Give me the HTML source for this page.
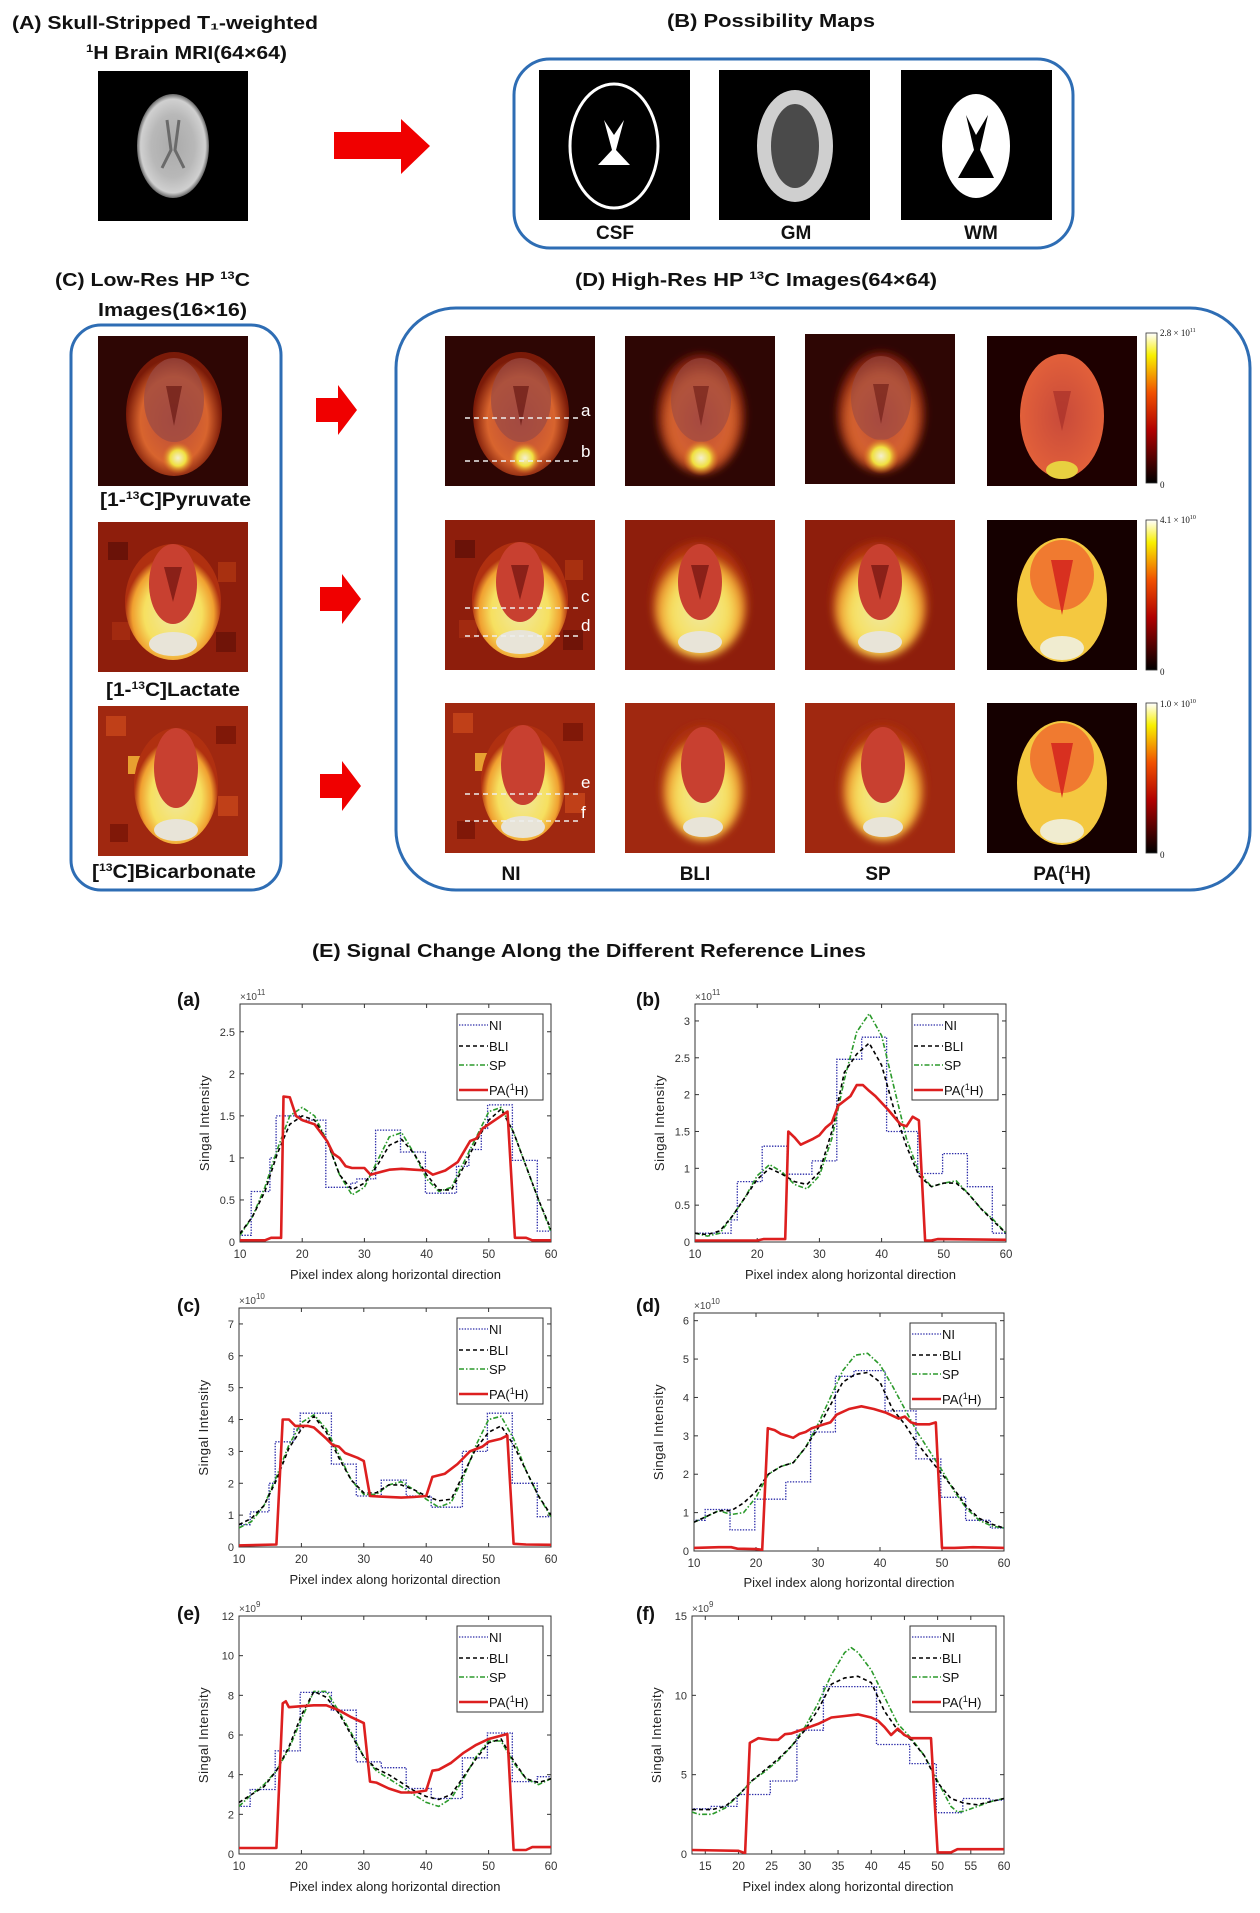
<!DOCTYPE html>
<html><head><meta charset="utf-8">
<style>
html,body{margin:0;padding:0;background:#fff;}
svg{display:block;}
.t{font-family:"Liberation Sans",sans-serif;font-weight:bold;fill:#111;}
</style></head>
<body>
<svg id="fig" width="1260" height="1913" viewBox="0 0 1260 1913" xmlns="http://www.w3.org/2000/svg">
<defs>
  <radialGradient id="gMri" cx="50%" cy="50%" r="50%"><stop offset="0" stop-color="#aaa"/><stop offset="0.6" stop-color="#b8b8b8"/><stop offset="0.9" stop-color="#d0d0d0"/><stop offset="1" stop-color="#666"/></radialGradient>
  <radialGradient id="gPyr" cx="50%" cy="55%" r="50%"><stop offset="0" stop-color="#b84a3a"/><stop offset="0.7" stop-color="#d8642e"/><stop offset="1" stop-color="#7a1a08"/></radialGradient>
  <radialGradient id="gSpot" cx="50%" cy="50%" r="50%"><stop offset="0" stop-color="#f4f0d0"/><stop offset="0.5" stop-color="#f0e040"/><stop offset="1" stop-color="#e07020" stop-opacity="0"/></radialGradient>
  <radialGradient id="gLac" cx="50%" cy="60%" r="50%"><stop offset="0" stop-color="#f0e8a0"/><stop offset="0.6" stop-color="#f6e060"/><stop offset="0.85" stop-color="#f0a030"/><stop offset="1" stop-color="#b03010"/></radialGradient>
  <radialGradient id="gPaP" cx="50%" cy="50%" r="50%"><stop offset="0" stop-color="#c84a3a"/><stop offset="1" stop-color="#e2603a"/></radialGradient>
  <linearGradient id="gCb" x1="0" y1="1" x2="0" y2="0"><stop offset="0" stop-color="#000"/><stop offset="0.35" stop-color="#b00000"/><stop offset="0.6" stop-color="#f05000"/><stop offset="0.85" stop-color="#f8f000"/><stop offset="1" stop-color="#fff"/></linearGradient>
  <filter id="blur4"><feGaussianBlur stdDeviation="4"/></filter>
  <symbol id="symPyr" viewBox="0 0 150 150">
    <rect width="150" height="150" fill="#2e0604"/>
    <ellipse cx="76" cy="78" rx="48" ry="62" fill="url(#gPyr)"/>
    <ellipse cx="76" cy="64" rx="30" ry="42" fill="#9a4a44" opacity="0.7"/>
    <path d="M68 50 L76 90 L84 50 Z" fill="#6a1a14" opacity="0.7"/>
    <circle cx="80" cy="122" r="16" fill="url(#gSpot)"/>
  </symbol>
  <symbol id="symPyrS" viewBox="0 0 150 150">
    <rect width="150" height="150" fill="#2e0604"/>
    <g filter="url(#blur4)"><ellipse cx="76" cy="78" rx="44" ry="60" fill="url(#gPyr)"/></g>
    <ellipse cx="76" cy="64" rx="30" ry="42" fill="#9a4a44" opacity="0.6"/>
    <path d="M68 50 L76 90 L84 50 Z" fill="#6a1a14" opacity="0.6"/>
    <circle cx="76" cy="122" r="18" fill="url(#gSpot)"/>
  </symbol>
  <symbol id="symPyrP" viewBox="0 0 150 150">
    <rect width="150" height="150" fill="#1e0000"/>
    <ellipse cx="75" cy="80" rx="42" ry="62" fill="url(#gPaP)"/>
    <path d="M66 55 L75 95 L84 55 Z" fill="#a8302a" opacity="0.7"/>
    <ellipse cx="75" cy="134" rx="16" ry="9" fill="#e8d040"/>
  </symbol>
  <symbol id="symLac" viewBox="0 0 150 150">
    <rect width="150" height="150" fill="#8e1e0c"/>
    <rect x="10" y="20" width="20" height="18" fill="#6a1208"/><rect x="120" y="40" width="18" height="20" fill="#a83010"/><rect x="14" y="100" width="18" height="18" fill="#a22a10"/><rect x="118" y="110" width="20" height="20" fill="#701408"/>
    <ellipse cx="75" cy="80" rx="48" ry="58" fill="url(#gLac)"/>
    <ellipse cx="75" cy="62" rx="24" ry="40" fill="#c84030"/>
    <path d="M66 45 L75 80 L84 45 Z" fill="#8a2018"/>
    <ellipse cx="75" cy="122" rx="24" ry="12" fill="#e8e4d8"/>
  </symbol>
  <symbol id="symLacS" viewBox="0 0 150 150">
    <rect width="150" height="150" fill="#8e1e0c"/>
    <g filter="url(#blur4)"><ellipse cx="75" cy="80" rx="48" ry="58" fill="url(#gLac)"/></g>
    <ellipse cx="75" cy="62" rx="22" ry="38" fill="#c84030"/>
    <path d="M66 45 L75 80 L84 45 Z" fill="#8a2018"/>
    <ellipse cx="75" cy="122" rx="22" ry="11" fill="#e8e4d8"/>
  </symbol>
  <symbol id="symLacP" viewBox="0 0 150 150">
    <rect width="150" height="150" fill="#150000"/>
    <ellipse cx="75" cy="80" rx="45" ry="62" fill="#f4c840"/>
    <ellipse cx="75" cy="55" rx="32" ry="35" fill="#f07a30"/>
    <path d="M64 40 L75 95 L86 40 Z" fill="#d83020"/>
    <ellipse cx="75" cy="128" rx="22" ry="12" fill="#f0ecd0"/>
  </symbol>
  <symbol id="symBic" viewBox="0 0 150 150">
    <rect width="150" height="150" fill="#a02810"/>
    <rect x="8" y="10" width="20" height="20" fill="#c04018"/><rect x="30" y="50" width="18" height="18" fill="#e8a030"/><rect x="118" y="20" width="20" height="18" fill="#801808"/><rect x="120" y="90" width="20" height="20" fill="#c04018"/><rect x="12" y="118" width="18" height="18" fill="#801808"/>
    <ellipse cx="78" cy="80" rx="42" ry="58" fill="url(#gLac)"/>
    <ellipse cx="78" cy="62" rx="22" ry="40" fill="#c84030"/>
    <ellipse cx="78" cy="124" rx="22" ry="11" fill="#e8e4d8"/>
  </symbol>
  <symbol id="symBicS" viewBox="0 0 150 150">
    <rect width="150" height="150" fill="#a02810"/>
    <g filter="url(#blur4)"><ellipse cx="78" cy="80" rx="42" ry="58" fill="url(#gLac)"/></g>
    <ellipse cx="78" cy="62" rx="22" ry="38" fill="#c84030"/>
    <ellipse cx="78" cy="124" rx="20" ry="10" fill="#e8e4d8"/>
  </symbol>
</defs>

<!-- (A) -->
<text class="t" x="12" y="29" font-size="18" textLength="306" lengthAdjust="spacingAndGlyphs">(A)  Skull-Stripped T₁-weighted</text>
<text class="t" x="86" y="59" font-size="18" textLength="201" lengthAdjust="spacingAndGlyphs"><tspan font-size="11" dy="-7">1</tspan><tspan dy="7">H Brain MRI(64×64)</tspan></text>
<g>
  <rect x="98" y="71" width="150" height="150" fill="#000"/>
  <ellipse cx="173" cy="146" rx="36" ry="52" fill="url(#gMri)"/>
  <path d="M167 120 L171 150 L162 168 M179 120 L175 150 L184 168" stroke="#6a6a6a" stroke-width="3" fill="none"/>
</g>
<polygon points="334,132 401,132 401,119 430,146 401,174 401,159 334,159" fill="#f00000"/>

<!-- (B) -->
<text class="t" x="667" y="27" font-size="18" textLength="208" lengthAdjust="spacingAndGlyphs">(B)   Possibility Maps</text>
<rect x="514" y="59" width="559" height="189" rx="36" fill="none" stroke="#2e6db4" stroke-width="3"/>
<g>
  <rect x="539" y="70" width="151" height="150" fill="#000"/>
  <ellipse cx="614" cy="146" rx="44" ry="62" fill="none" stroke="#fff" stroke-width="3"/>
  <path d="M604 120 L612 150 L598 165 L630 165 L616 150 L624 120 L614 135 Z" fill="#fff"/>
</g>
<g>
  <rect x="719" y="70" width="151" height="150" fill="#000"/>
  <ellipse cx="795" cy="146" rx="38" ry="56" fill="#cfcfcf"/>
  <ellipse cx="795" cy="146" rx="24" ry="42" fill="#4a4a4a"/>
</g>
<g>
  <rect x="901" y="70" width="151" height="150" fill="#000"/>
  <ellipse cx="976" cy="146" rx="34" ry="52" fill="#fff"/>
  <path d="M966 115 L974 150 L958 178 L994 178 L980 150 L988 115 L976 135 Z" fill="#000"/>
</g>
<text class="t" x="615" y="239" font-size="19" text-anchor="middle">CSF</text>
<text class="t" x="796" y="239" font-size="19" text-anchor="middle">GM</text>
<text class="t" x="981" y="239" font-size="19" text-anchor="middle">WM</text>

<!-- (C) -->
<text class="t" x="55" y="286" font-size="18" textLength="195" lengthAdjust="spacingAndGlyphs">(C)  Low-Res HP <tspan font-size="11" dy="-7">13</tspan><tspan dy="7">C</tspan></text>
<text class="t" x="98" y="316" font-size="18" textLength="149" lengthAdjust="spacingAndGlyphs">Images(16×16)</text>
<rect x="71" y="325" width="210" height="565" rx="30" fill="none" stroke="#2e6db4" stroke-width="3"/>
<use href="#symPyr" x="98" y="336" width="150" height="150"/>
<use href="#symLac" x="98" y="522" width="150" height="150"/>
<use href="#symBic" x="98" y="706" width="150" height="150"/>
<text class="t" x="100" y="506" font-size="19" textLength="151" lengthAdjust="spacingAndGlyphs">[1-<tspan font-size="11" dy="-7">13</tspan><tspan dy="7">C]Pyruvate</tspan></text>
<text class="t" x="106" y="696" font-size="19" textLength="134" lengthAdjust="spacingAndGlyphs">[1-<tspan font-size="11" dy="-7">13</tspan><tspan dy="7">C]Lactate</tspan></text>
<text class="t" x="92" y="878" font-size="19" textLength="164" lengthAdjust="spacingAndGlyphs">[<tspan font-size="11" dy="-7">13</tspan><tspan dy="7">C]Bicarbonate</tspan></text>
<polygon points="316,398 338,398 338,385 357,410 338,435 338,422 316,422" fill="#f00000"/>
<polygon points="320,587 342,587 342,574 361,599 342,624 342,611 320,611" fill="#f00000"/>
<polygon points="320,774 342,774 342,761 361,786 342,811 342,798 320,798" fill="#f00000"/>

<!-- (D) -->
<text class="t" x="575" y="286" font-size="18" textLength="362" lengthAdjust="spacingAndGlyphs">(D)    High-Res HP <tspan font-size="11" dy="-7">13</tspan><tspan dy="7">C Images(64×64)</tspan></text>
<rect x="396" y="308" width="854" height="582" rx="60" fill="none" stroke="#2e6db4" stroke-width="3"/>
<use href="#symPyr" x="444" y="336" width="152" height="150"/>
<use href="#symPyrS" x="625" y="336" width="150" height="150"/>
<use href="#symPyrS" x="805" y="334" width="150" height="150"/>
<use href="#symPyrP" x="987" y="336" width="150" height="150"/>
<use href="#symLac" x="444" y="520" width="152" height="150"/>
<use href="#symLacS" x="625" y="520" width="150" height="150"/>
<use href="#symLacS" x="805" y="520" width="150" height="150"/>
<use href="#symLacP" x="987" y="520" width="150" height="150"/>
<use href="#symBic" x="444" y="703" width="152" height="150"/>
<use href="#symBicS" x="625" y="703" width="150" height="150"/>
<use href="#symBicS" x="805" y="703" width="150" height="150"/>
<use href="#symLacP" x="987" y="703" width="150" height="150"/>
<g stroke="#eee" stroke-width="1.5" stroke-dasharray="5,4">
  <line x1="465" y1="418" x2="578" y2="418"/><line x1="465" y1="461" x2="578" y2="461"/>
  <line x1="465" y1="608" x2="578" y2="608"/><line x1="465" y1="636" x2="578" y2="636"/>
  <line x1="465" y1="794" x2="578" y2="794"/><line x1="465" y1="821" x2="578" y2="821"/>
</g>
<g font-family="Liberation Sans,sans-serif" font-size="17" fill="#fff">
  <text x="581" y="416">a</text><text x="581" y="457">b</text>
  <text x="581" y="602">c</text><text x="581" y="631">d</text>
  <text x="581" y="788">e</text><text x="581" y="818">f</text>
</g>
<g font-family="Liberation Serif,serif" font-size="9" fill="#111">
  <rect x="1146" y="333" width="11" height="150" fill="url(#gCb)" stroke="#333" stroke-width="0.8"/>
  <rect x="1146" y="520" width="11" height="150" fill="url(#gCb)" stroke="#333" stroke-width="0.8"/>
  <rect x="1146" y="703" width="11" height="150" fill="url(#gCb)" stroke="#333" stroke-width="0.8"/>
  <text x="1160" y="336">2.8 × 10<tspan font-size="6" dy="-4">11</tspan></text><text x="1160" y="488">0</text>
  <text x="1160" y="523">4.1 × 10<tspan font-size="6" dy="-4">10</tspan></text><text x="1160" y="675">0</text>
  <text x="1160" y="707">1.0 × 10<tspan font-size="6" dy="-4">10</tspan></text><text x="1160" y="858">0</text>
</g>
<text class="t" x="511" y="880" font-size="19" text-anchor="middle">NI</text>
<text class="t" x="695" y="880" font-size="19" text-anchor="middle">BLI</text>
<text class="t" x="878" y="880" font-size="19" text-anchor="middle">SP</text>
<text class="t" x="1062" y="880" font-size="19" text-anchor="middle">PA(<tspan font-size="11" dy="-7">1</tspan><tspan dy="7">H)</tspan></text>

<!-- (E) -->
<text class="t" x="312" y="957" font-size="18" textLength="554" lengthAdjust="spacingAndGlyphs">(E)      Signal Change Along the Different Reference Lines</text>
<g id="charts"></g>
</svg>
<script>
// ---- data (values ×10^exp) ----
const xTicksMain=[10,20,30,40,50,60];
const xTicksF=[15,20,25,30,35,40,45,50,55,60];
const yTicksA=[0,0.5,1,1.5,2,2.5];
const yTicksB=[0,0.5,1,1.5,2,2.5,3];
const yTicksC=[0,1,2,3,4,5,6,7];
const yTicksD=[0,1,2,3,4,5,6];
const yTicksE=[0,2,4,6,8,10,12];
const yTicksF=[0,5,10,15];
const xEven=[10,12,14,16,18,20,22,24,26,28,30,32,34,36,38,40,42,44,46,48,50,52,54,56,58,60];

const aNI=[0.08,0.08,0.6,0.6,0.6,1.0,1.5,1.5,1.5,1.5,1.45,1.45,1.45,1.45,0.65,0.65,0.65,0.65,0.7,0.75,0.75,0.75,1.33,1.33,1.33,1.33,1.07,1.07,1.07,1.07,0.58,0.58,0.58,0.58,0.58,0.9,0.9,1.1,1.1,1.35,1.63,1.63,1.63,1.63,0.97,0.97,0.97,0.97,0.13,0.13,0.13];
const aBLI=[0.1,0.3,0.6,1.05,1.4,1.5,1.45,1.2,0.8,0.62,0.7,0.9,1.15,1.22,1.05,0.8,0.62,0.62,0.9,1.2,1.45,1.58,1.3,0.9,0.5,0.15];
const aSP=[0.08,0.3,0.65,1.1,1.5,1.6,1.5,1.2,0.8,0.56,0.65,0.95,1.25,1.3,1.05,0.75,0.6,0.65,0.95,1.25,1.55,1.6,1.3,0.9,0.5,0.12];
const aPAx=[10,14,15,16.6,17,18,19,20,22,24,25,26,27,28,30,31,32,34,36,38,40,41,43,45,47,48,49,51,53,54.2,56,57,60];
const aPA=[0.02,0.02,0.05,0.05,1.73,1.72,1.5,1.45,1.4,1.2,1.05,1.0,0.9,0.88,0.88,0.8,0.82,0.86,0.87,0.86,0.85,0.8,0.85,0.95,1.2,1.23,1.35,1.45,1.55,0.05,0.05,0.02,0.02];

const bNI=[0.12,0.12,0.12,0.12,0.12,0.12,0.3,0.82,0.82,0.82,0.82,1.3,1.3,1.3,1.3,0.92,0.92,0.92,0.92,1.1,1.1,1.1,1.1,2.48,2.48,2.48,2.48,2.78,2.78,2.78,2.78,1.5,1.5,1.5,1.5,1.5,0.93,0.93,0.93,0.93,1.2,1.2,1.2,1.2,0.75,0.75,0.75,0.75,0.12,0.12,0.12];
const bBLI=[0.12,0.1,0.15,0.35,0.6,0.85,1.0,0.92,0.82,0.78,0.95,1.5,2.3,2.55,2.7,2.4,1.8,1.3,0.9,0.75,0.8,0.8,0.65,0.45,0.28,0.12];
const bSP=[0.12,0.08,0.12,0.35,0.6,0.9,1.05,0.95,0.78,0.72,0.9,1.4,2.2,2.85,3.1,2.8,2.1,1.4,0.95,0.75,0.8,0.83,0.65,0.45,0.3,0.12];
const bPAx=[10,20,21,24.5,25,26,27,29,30,31,32,33,35,36,37,38,39,41,43,44,45,46,47,48,49,60];
const bPA=[0.02,0.02,0.04,0.04,1.5,1.42,1.32,1.4,1.45,1.55,1.62,1.85,1.98,2.13,2.13,2.05,1.98,1.8,1.6,1.57,1.7,1.65,0.02,0.02,0.04,0.03];

const cNI=[0.7,0.7,1.1,1.1,1.1,2.0,3.3,3.3,3.3,3.7,4.2,4.2,4.2,4.2,4.2,2.6,2.6,2.6,2.6,1.6,1.6,1.6,1.6,2.1,2.1,2.1,2.1,1.6,1.6,1.6,1.6,1.25,1.25,1.25,1.25,1.25,3.0,3.0,3.0,3.0,4.2,4.2,4.2,4.2,2.0,2.0,2.0,2.0,0.95,0.95,0.95];
const cBLI=[0.7,0.9,1.3,2.1,3.1,3.7,4.1,3.6,2.8,2.1,1.7,1.7,1.95,1.95,1.8,1.6,1.45,1.5,2.3,3.1,3.6,3.8,3.2,2.4,1.6,1.0];
const cSP=[0.6,0.8,1.3,2.2,3.2,3.9,4.15,3.7,2.9,2.1,1.65,1.65,1.95,2.05,1.8,1.5,1.25,1.4,2.2,3.2,4.0,4.1,3.4,2.4,1.6,0.95];
const cPAx=[10,16,17,18,19,21,22,24,25,26,27,29,30,31,33,36,38,40,41,43,45,47,49,50,52,53,54,56,60];
const cPA=[0.05,0.08,4.0,4.0,3.8,3.8,3.75,3.4,3.2,3.15,2.95,2.8,2.7,1.6,1.58,1.55,1.57,1.6,2.2,2.3,2.6,3.0,3.15,3.3,3.4,3.5,0.1,0.08,0.07];

const dNI=[0.8,0.8,1.08,1.08,1.08,1.08,0.55,0.55,0.55,0.55,1.35,1.35,1.35,1.35,1.35,1.8,1.8,1.8,1.8,3.1,3.1,3.1,3.1,4.55,4.55,4.55,4.7,4.7,4.7,4.7,4.7,3.65,3.65,3.65,3.65,3.65,2.4,2.4,2.4,2.4,1.4,1.4,1.4,1.4,0.8,0.8,0.8,0.8,0.6,0.6,0.6];
const dBLI=[0.75,0.9,1.05,1.05,1.25,1.55,2.0,2.2,2.3,2.7,3.2,3.8,4.4,4.6,4.65,4.4,3.7,3.3,2.8,2.4,2.0,1.6,1.15,0.85,0.7,0.6];
const dSP=[0.75,0.9,1.05,0.95,1.0,1.4,2.0,2.2,2.3,2.7,3.3,4.0,4.7,5.1,5.15,4.85,4.3,3.7,3.1,2.6,2.1,1.55,1.1,0.8,0.65,0.6];
const dPAx=[10,14,16,17,20,21,21.9,23,24,25,26,27,28,29,31,32,33,35,37,39,41,43,44,45,46,48,49,50,52,55,60];
const dPA=[0.08,0.1,0.1,0.06,0.05,0.03,3.2,3.15,3.05,3.0,2.95,3.05,3.1,3.2,3.3,3.35,3.55,3.7,3.77,3.7,3.6,3.45,3.5,3.35,3.3,3.3,3.35,0.08,0.08,0.1,0.08];

const eNI=[2.4,2.4,3.25,3.25,3.25,3.25,5.2,5.2,5.2,5.2,8.15,8.15,8.15,8.15,8.15,7.25,7.25,7.25,7.25,4.65,4.65,4.65,4.65,4.35,4.35,4.35,4.35,3.3,3.3,3.3,3.3,2.8,2.8,2.8,2.8,2.8,4.85,4.85,4.85,4.85,6.1,6.1,6.1,6.1,3.65,3.65,3.65,3.65,3.9,3.9,3.9];
const eBLI=[2.6,3.0,3.4,4.2,5.4,7.0,8.2,7.9,7.1,6.0,4.9,4.3,4.0,3.6,3.2,2.9,2.75,3.0,3.9,4.8,5.6,5.8,4.7,3.8,3.6,3.8];
const eSP=[2.4,3.0,3.5,4.2,5.3,6.8,8.2,8.2,7.2,6.1,4.9,4.2,3.8,3.4,3.0,2.6,2.4,2.8,3.8,4.9,5.7,5.7,4.6,3.8,3.5,3.8];
const ePAx=[10,16,17,17.5,18,20,22,24,26,28,30,31,32,34,36,38,40,41,42,44,46,48,50,53,54,56,57,60];
const ePA=[0.3,0.3,7.6,7.7,7.4,7.45,7.5,7.5,7.25,6.9,6.6,3.65,3.6,3.3,3.1,3.1,3.2,4.2,4.25,4.6,5.1,5.5,5.8,6.05,0.2,0.2,0.35,0.35];

const fNI=[2.85,2.85,2.85,3.0,3.0,3.0,3.0,3.75,3.75,3.75,3.75,3.75,4.6,4.6,4.6,4.6,7.8,7.8,7.8,7.8,10.55,10.55,10.55,10.55,10.55,10.55,10.55,10.55,6.9,6.9,6.9,6.9,6.9,5.7,5.7,5.7,5.7,2.6,2.6,2.6,2.6,3.5,3.5,3.5,3.5,3.4,3.4,3.4];
const fSPx=[13,14,16,18,20,22,24,26,28,30,32,34,36,37,38,40,42,44,46,48,50,52,53,54,56,58,60];
const fSP=[2.65,2.5,2.5,2.9,3.7,4.6,5.2,5.9,6.8,8.0,9.5,11.3,12.7,13.0,12.7,11.6,9.9,8.2,7.3,6.2,4.6,3.0,2.65,2.7,3.0,3.3,3.5];
const fBLIx=[13,16,18,20,22,24,26,28,30,32,34,36,38,40,42,44,46,48,50,52,54,56,58,60];
const fBLI=[2.8,2.8,3.0,3.7,4.6,5.3,6.0,6.8,7.8,9.1,10.7,11.1,11.2,10.8,9.0,7.8,7.2,6.2,4.5,3.5,3.2,3.1,3.3,3.5];
const fPAx=[13,20,21,21.7,23,25,26,27,28,30,32,34,36,38,40,41,42,43,44,45,46,48,49,50,52,53,60];
const fPA=[0.25,0.2,0.05,7.0,7.3,7.2,7.2,7.55,7.6,7.9,8.2,8.6,8.7,8.8,8.6,8.4,8.0,7.5,7.9,7.5,7.3,7.3,7.3,0.1,0.1,0.3,0.3];

// ---- layout (pixels) ----
const charts=[
 {id:'a',x0:240,x1:551,y0:1004,y1:1242,xmin:10,xmax:60,ymax:2.83,exp:'11',xt:xTicksMain,yt:yTicksA,ni:aNI,niStart:10,blix:xEven,bli:aBLI,spx:xEven,sp:aSP,pax:aPAx,pa:aPA,lab:[177,1006],xl:1279},
 {id:'b',x0:695,x1:1006,y0:1004,y1:1242,xmin:10,xmax:60,ymax:3.23,exp:'11',xt:xTicksMain,yt:yTicksB,ni:bNI,niStart:10,blix:xEven,bli:bBLI,spx:xEven,sp:bSP,pax:bPAx,pa:bPA,lab:[636,1006],xl:1279},
 {id:'c',x0:239,x1:551,y0:1308,y1:1547,xmin:10,xmax:60,ymax:7.5,exp:'10',xt:xTicksMain,yt:yTicksC,ni:cNI,niStart:10,blix:xEven,bli:cBLI,spx:xEven,sp:cSP,pax:cPAx,pa:cPA,lab:[177,1312],xl:1584},
 {id:'d',x0:694,x1:1004,y0:1313,y1:1551,xmin:10,xmax:60,ymax:6.2,exp:'10',xt:xTicksMain,yt:yTicksD,ni:dNI,niStart:10,blix:xEven,bli:dBLI,spx:xEven,sp:dSP,pax:dPAx,pa:dPA,lab:[636,1312],xl:1587},
 {id:'e',x0:239,x1:551,y0:1616,y1:1854,xmin:10,xmax:60,ymax:12,exp:'9',xt:xTicksMain,yt:yTicksE,ni:eNI,niStart:10,blix:xEven,bli:eBLI,spx:xEven,sp:eSP,pax:ePAx,pa:ePA,lab:[177,1620],xl:1891},
 {id:'f',x0:692,x1:1004,y0:1616,y1:1854,xmin:13,xmax:60,ymax:15,exp:'9',xt:xTicksF,yt:yTicksF,ni:fNI,niStart:13,blix:fBLIx,bli:fBLI,spx:fSPx,sp:fSP,pax:fPAx,pa:fPA,lab:[636,1620],xl:1891}
];
const NS='http://www.w3.org/2000/svg';
const root=document.getElementById('charts');
function mk(tag,attrs,parent){const e=document.createElementNS(NS,tag);for(const k in attrs)e.setAttribute(k,attrs[k]);(parent||root).appendChild(e);return e;}
function txt(el,s){el.textContent=s;return el;}

charts.forEach(c=>{
  const sx=v=>c.x0+(v-c.xmin)/(c.xmax-c.xmin)*(c.x1-c.x0);
  const sy=v=>c.y1-v/c.ymax*(c.y1-c.y0);
  const g=mk('g',{});
  
  
  const frame=mk('rect',{x:c.x0,y:c.y0,width:c.x1-c.x0,height:c.y1-c.y0,fill:'#fff',stroke:'#333','stroke-width':1},g);
  
  
  c.yt.forEach(v=>{
    const y=sy(v);
    mk('line',{x1:c.x0,x2:c.x0+4,y1:y,y2:y,stroke:'#333'},g);
    mk('line',{x1:c.x1-4,x2:c.x1,y1:y,y2:y,stroke:'#333'},g);
    const t=txt(mk('text',{x:c.x0-5,y:y+4,'text-anchor':'end','font-family':'Liberation Sans,sans-serif','font-size':11,fill:'#333'},g),String(v));
    
    
  });
  c.xt.forEach(v=>{
    const x=sx(v);
    mk('line',{x1:x,x2:x,y1:c.y1,y2:c.y1-4,stroke:'#333'},g);
    mk('line',{x1:x,x2:x,y1:c.y0,y2:c.y0+4,stroke:'#333'},g);
    const t=txt(mk('text',{x:x,y:c.y1+16,'text-anchor':'middle','font-family':'Liberation Sans,sans-serif','font-size':11.5,fill:'#333'},g),String(v));
    
    
  });
  const ex=mk('text',{x:c.x0,y:c.y0-4,'font-family':'Liberation Sans,sans-serif','font-size':10,fill:'#444'},g);
  
  
  txt(ex,'×10');
  txt(mk('tspan',{'font-size':8,dy:-5},ex),c.exp);
  const cp=mk('clipPath',{id:'clip'+c.id},g);
  mk('rect',{x:c.x0,y:c.y0,width:c.x1-c.x0,height:c.y1-c.y0},cp);
  const sg=mk('g',{'clip-path':'url(#clip'+c.id+')'},g);
  // NI step
  let d='';
  c.ni.forEach((v,i)=>{const x=c.niStart+i;d+=(i?'L':'M')+sx(x-0.2).toFixed(1)+' '+sy(v).toFixed(1)+'L'+sx(x+0.8).toFixed(1)+' '+sy(v).toFixed(1);});
  const pNI=mk('path',{d:d,fill:'none',stroke:'#2a2aa8','stroke-width':1.3,'stroke-dasharray':'1.4,1.4'},sg);
  
  
  const line=(xs,ys)=>xs.map((x,i)=>(i?'L':'M')+sx(x).toFixed(1)+' '+sy(ys[i]).toFixed(1)).join('');
  const pSP=mk('path',{d:line(c.spx,c.sp),fill:'none',stroke:'#2b9a2b','stroke-width':1.6,'stroke-dasharray':'5,2,1.5,2','stroke-linejoin':'round'},sg);
  
  
  const pBLI=mk('path',{d:line(c.blix,c.bli),fill:'none',stroke:'#000','stroke-width':1.6,'stroke-dasharray':'4,3','stroke-linejoin':'round'},sg);
  
  
  const pPA=mk('path',{d:line(c.pax,c.pa),fill:'none',stroke:'#dd1f1f','stroke-width':2.6,'stroke-linejoin':'round'},sg);
  
  
  // legend
  const lx=c.x1-94, ly=c.y0+10;
  const lg=mk('g',{},g);
  
  
  mk('rect',{x:lx,y:ly,width:86,height:86,fill:'#fff',stroke:'#333','stroke-width':1},lg);
  const ent=[['NI','#2a2aa8',1.3,'1.4,1.4',11],['BLI','#000',1.6,'4,3',32],['SP','#2b9a2b',1.6,'5,2,1.5,2',51],['PA','#dd1f1f',2.6,'',76]];
  ent.forEach(e=>{
    const yy=ly+e[4];
    const ln=mk('line',{x1:lx+2,x2:lx+31,y1:yy,y2:yy,stroke:e[1],'stroke-width':e[2]},lg);
    if(e[3])ln.setAttribute('stroke-dasharray',e[3]);
    const t=mk('text',{x:lx+32,y:yy+5,'font-family':'Liberation Sans,sans-serif','font-size':13,fill:'#111'},lg);
    
    
    if(e[0]==='PA'){txt(t,'PA(');txt(mk('tspan',{'font-size':9,dy:-5},t),'1');txt(mk('tspan',{dy:5},t),'H)');}
    else txt(t,e[0]);
  });
  const xl=txt(mk('text',{x:(c.x0+c.x1)/2,y:c.xl,'text-anchor':'middle','font-family':'Liberation Sans,sans-serif','font-size':13,fill:'#222'},g),'Pixel index along horizontal direction');
  
  
  const ycx=c.x0-31, ycy=(c.y0+c.y1)/2;
  const yl=txt(mk('text',{x:ycx,y:ycy,'text-anchor':'middle','font-family':'Liberation Sans,sans-serif','font-size':13,fill:'#222','letter-spacing':'0.5',transform:'rotate(-90 '+ycx+' '+ycy+')'},g),'Singal  Intensity');
  
  
  const pl=txt(mk('text',{x:c.lab[0],y:c.lab[1],'font-family':'Liberation Sans,sans-serif','font-weight':'bold','font-size':19,fill:'#111'},g),'('+c.id+')');
  
  
});
</script>
</body></html>
